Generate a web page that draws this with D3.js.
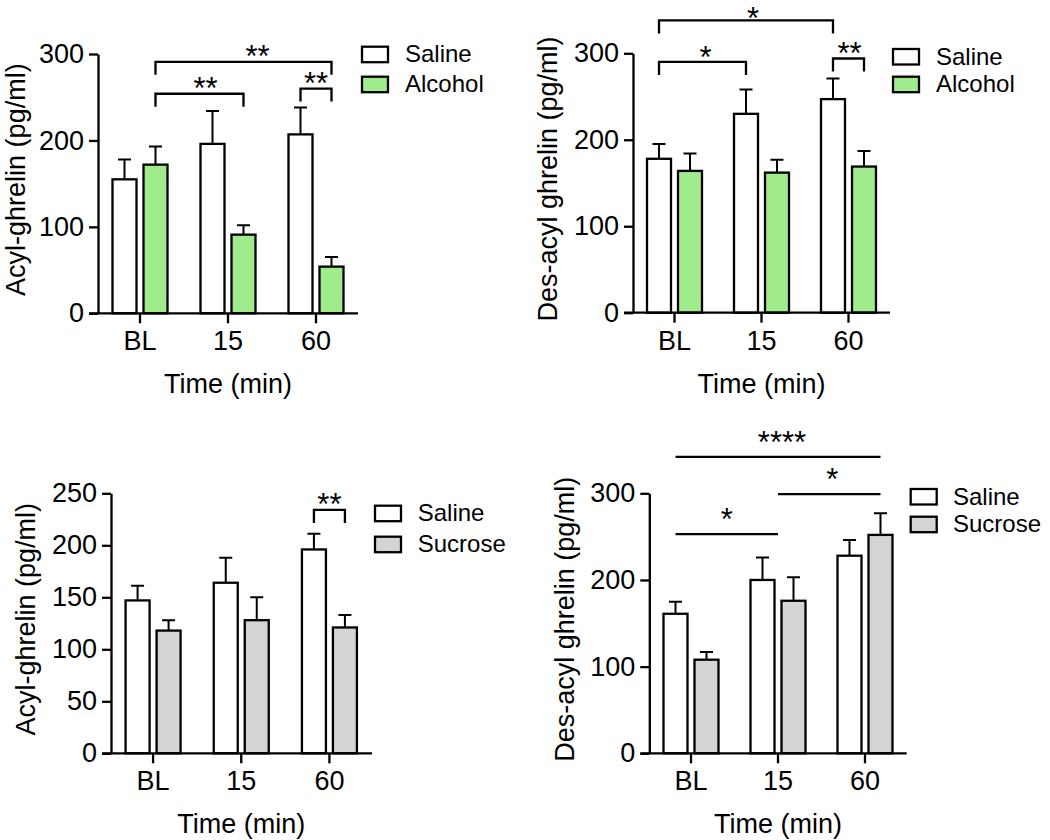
<!DOCTYPE html>
<html>
<head>
<meta charset="utf-8">
<script src="https://cdn.jsdelivr.net/npm/d3@7/dist/d3.min.js"></script>
<style>
  html, body { margin: 0; padding: 0; background: #fff; }
  svg { display: block; }
  text { font-family: "Liberation Sans", Arial, Helvetica, sans-serif; fill: #000; }
</style>
</head>
<body>
<svg id="chart" width="1050" height="840"></svg>
<script>
// ---------------- DATA ----------------
const categories = ["BL", "15", "60"];

// Panel A: Acyl-ghrelin, Saline vs Alcohol
const acylAlcSalineMean = [155, 196, 207];
const acylAlcSalineSem  = [23, 38, 31];
const acylAlcoholMean   = [172, 91, 54];
const acylAlcoholSem    = [21, 11, 11];

// Panel B: Des-acyl ghrelin, Saline vs Alcohol
const desAlcSalineMean = [178, 230, 247];
const desAlcSalineSem  = [17, 28, 24];
const desAlcoholMean   = [164, 162, 169];
const desAlcoholSem    = [20, 15, 18];

// Panel C: Acyl-ghrelin, Saline vs Sucrose
const acylSucSalineMean = [147, 164, 196];
const acylSucSalineSem  = [14, 24, 15];
const acylSucroseMean   = [118, 128, 121];
const acylSucroseSem    = [10, 22, 12];

// Panel D: Des-acyl ghrelin, Saline vs Sucrose
const desSucSalineMean = [161, 200, 228];
const desSucSalineSem  = [14, 26, 18];
const desSucroseMean   = [108, 176, 252];
const desSucroseSem    = [9, 27, 25];

const seriesAlcohol = ["Saline", "Alcohol"];
const seriesSucrose = ["Saline", "Sucrose"];

const ticksA = [0, 100, 200, 300];
const ticksB = [0, 100, 200, 300];
const ticksC = [0, 50, 100, 150, 200, 250];
const ticksD = [0, 100, 200, 300];

// significance annotations: endpoints [groupIndex, seriesIndex (-1 = group centre)], height in data units
const sigA = [
  { from: [0, 1], to: [2, 1], y: 291, label: "**" },
  { from: [0, 1], to: [1, 1], y: 254, label: "**" },
  { from: [2, 0], to: [2, 1], y: 260, label: "**" }
];
const sigB = [
  { from: [0, 0], to: [2, 0], y: 338, label: "*" },
  { from: [0, 0], to: [1, 0], y: 290, label: "*" },
  { from: [2, 0], to: [2, 1], y: 294, label: "**" }
];
const sigC = [
  { from: [2, 0], to: [2, 1], y: 234, label: "**" }
];
const sigD = [
  { from: [0, 0], to: [2, 1], y: 342, label: "****" },
  { from: [0, 0], to: [1, -1], y: 253, label: "*" },
  { from: [1, -1], to: [2, 1], y: 299, label: "*" }
];

// ---------------- LAYOUT / STYLE ----------------
const GREEN = "#a0eb8c";
const GREY = "#d4d4d4";
const svg = d3.select("#chart");

const panels = [
  { means: [acylAlcSalineMean, acylAlcoholMean], sems: [acylAlcSalineSem, acylAlcoholSem],
    series: seriesAlcohol, fills: ["#fff", GREEN], ticks: ticksA, yMax: 300,
    ylabel: "Acyl-ghrelin (pg/ml)", sig: sigA, legs: true, starGap: 13, starShift: [14, 6, 0],
    x0: 96, x1: 360, axisL: 98, axisR: 358, yTop: 54, yZero: 313.3, ylabX: 25,
    legX: 362, legY: [46.7, 76.7], legTextX: 405 },
  { means: [desAlcSalineMean, desAlcoholMean], sems: [desAlcSalineSem, desAlcoholSem],
    series: seriesAlcohol, fills: ["#fff", GREEN], ticks: ticksB, yMax: 300,
    ylabel: "Des-acyl ghrelin (pg/ml)", sig: sigB, legs: true, starGap: 12, starShift: [7, 3, 1],
    x0: 631, x1: 892, axisL: 633, axisR: 890, yTop: 53.3, yZero: 312.7, ylabX: 557,
    legX: 893, legY: [49, 76.7], legTextX: 936 },
  { means: [acylSucSalineMean, acylSucroseMean], sems: [acylSucSalineSem, acylSucroseSem],
    series: seriesSucrose, fills: ["#fff", GREY], ticks: ticksC, yMax: 250,
    ylabel: "Acyl-ghrelin (pg/ml)", sig: sigC, legs: true, starGap: 12.6, starShift: [0],
    x0: 109, x1: 373.5, axisL: 111, axisR: 372, yTop: 493.3, yZero: 753.3, ylabX: 35,
    legX: 375, legY: [505.7, 536.7], legTextX: 417.7 },
  { means: [desSucSalineMean, desSucroseMean], sems: [desSucSalineSem, desSucroseSem],
    series: seriesSucrose, fills: ["#fff", GREY], ticks: ticksD, yMax: 300,
    ylabel: "Des-acyl ghrelin (pg/ml)", sig: sigD, legs: false, starGap: 22, starShift: [4, 0, 3],
    x0: 647.5, x1: 908.5, axisL: 649.3, axisR: 906.7, yTop: 493.3, yZero: 753.3, ylabX: 574,
    legX: 910.7, legY: [489, 516.7], legTextX: 953 }
];

const STROKE = 2.3;

panels.forEach(p => {
  const g = svg.append("g");
  const x = d3.scaleBand().domain(categories).range([p.x0, p.x1]).padding(0);
  const xs = d3.scaleBand().domain([0, 1]).range([-27.5, 27.5]).paddingInner(7 / 31).paddingOuter(0);
  const y = d3.scaleLinear().domain([0, p.yMax]).range([p.yZero, p.yTop]);
  const cx = (gi) => x(categories[gi]) + x.bandwidth() / 2;
  const barCx = (gi, si) => si < 0 ? cx(gi) : cx(gi) + xs(si) + xs.bandwidth() / 2;

  // bars
  [0, 1].forEach(si => {
    const data = categories.map((c, i) => ({ i, m: p.means[si][i], e: p.sems[si][i] }));
    // error bars (upward only)
    g.selectAll(null).data(data).enter().append("path")
      .attr("d", d => {
        const bx = barCx(d.i, si);
        return `M${bx},${y(d.m)}V${y(d.m + d.e)}M${bx - 6.5},${y(d.m + d.e)}H${bx + 6.5}`;
      })
      .attr("stroke", "#000").attr("stroke-width", 2).attr("fill", "none");
    g.selectAll(null).data(data).enter().append("rect")
      .attr("x", d => cx(d.i) + xs(si))
      .attr("y", d => y(d.m))
      .attr("width", xs.bandwidth())
      .attr("height", d => y(0) - y(d.m))
      .attr("fill", p.fills[si])
      .attr("stroke", "#000").attr("stroke-width", STROKE);
  });

  // y axis
  const yAxis = d3.axisLeft(y).tickValues(p.ticks).tickSize(9).tickPadding(5).tickSizeOuter(0);
  const ya = g.append("g").attr("transform", `translate(${p.axisL},0)`).call(yAxis);
  ya.select(".domain").attr("stroke-width", STROKE);
  ya.selectAll(".tick line").attr("stroke-width", STROKE);
  ya.selectAll(".tick text").style("font-size", "27px").attr("font-family", null).attr("fill", "#000");

  // x axis
  const xAxis = d3.axisBottom(x).tickSize(10).tickPadding(8).tickSizeOuter(0);
  const xa = g.append("g").attr("transform", `translate(0,${p.yZero})`).call(xAxis);
  xa.select(".domain").attr("d", `M${p.axisL - 9},0H${p.axisR}`).attr("stroke-width", STROKE);
  xa.selectAll(".tick line").attr("stroke-width", STROKE);
  xa.selectAll(".tick text").style("font-size", "27px").attr("font-family", null).attr("fill", "#000");

  // axis titles
  g.append("text")
    .attr("transform", `translate(${p.ylabX},${(p.yTop + p.yZero) / 2 - 4}) rotate(-90)`)
    .attr("text-anchor", "middle").style("font-size", "27px").text(p.ylabel);
  g.append("text")
    .attr("x", cx(1)).attr("y", p.yZero + 80)
    .attr("text-anchor", "middle").style("font-size", "27px").text("Time (min)");

  // significance
  p.sig.forEach((s, k) => {
    const xa1 = barCx(s.from[0], s.from[1]);
    const xa2 = barCx(s.to[0], s.to[1]);
    const yy = y(s.y);
    const d = p.legs
      ? `M${xa1},${yy + 13}V${yy}H${xa2}V${yy + 13}`
      : `M${xa1},${yy}H${xa2}`;
    g.append("path").attr("d", d).attr("fill", "none").attr("stroke", "#000").attr("stroke-width", STROKE);
    g.append("text")
      .attr("x", (xa1 + xa2) / 2 + (p.starShift[k] || 0))
      .attr("y", Math.max(yy - p.starGap + 18, 29))
      .attr("text-anchor", "middle").style("font-size", "31px")
      .text(s.label);
  });

  // legend
  p.series.forEach((name, si) => {
    g.append("rect")
      .attr("x", p.legX).attr("y", p.legY[si])
      .attr("width", 26).attr("height", 15.5)
      .attr("fill", p.fills[si]).attr("stroke", "#000").attr("stroke-width", STROKE);
    g.append("text")
      .attr("x", p.legTextX).attr("y", p.legY[si] + 15.5)
      .style("font-size", "24px").text(name);
  });
});
</script>
</body>
</html>
